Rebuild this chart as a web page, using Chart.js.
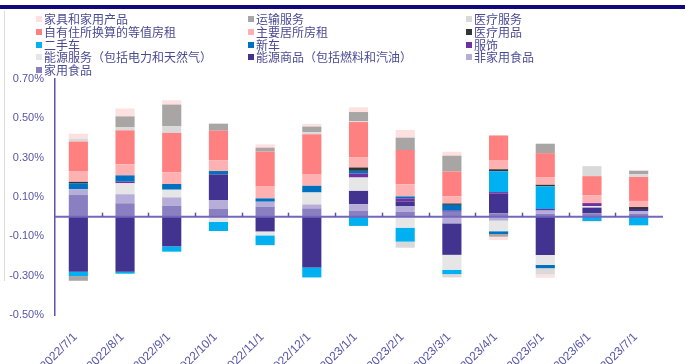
<!DOCTYPE html>
<html>
<head>
<meta charset="utf-8">
<script src="https://cdn.jsdelivr.net/npm/chart.js@4.4.0/dist/chart.umd.min.js"></script>
<style>
  body { margin: 0; background: #fff; }
  #wrap { position: relative; width: 685px; height: 364px; overflow: hidden; }
  #topbar { position: absolute; left: 0; top: 5px; width: 685px; height: 4px; background: #12087e; }
  #frame { position: absolute; left: 4px; top: 11px; width: 0; height: 270px; border-left: 1px solid #dcdcdc; }
  #legend { position: absolute; left: 0; top: 0; width: 685px; height: 80px; font-family: "Noto Sans CJK SC", sans-serif; font-size: 12px; color: #4a4a94; }
  .item { position: absolute; white-space: nowrap; line-height: 13px; }
  .box { display: inline-block; width: 6px; height: 6px; margin-right: 2px; vertical-align: 2px; }
  canvas { position: absolute; left: 0; top: 0; }
</style>
</head>
<body>
<div id="wrap">
  <div id="topbar"></div>
  <div id="frame"></div>
  <canvas id="cpi" width="685" height="364"></canvas>
  <div id="legend"></div>
</div>
<script>
// months on the x axis
const categories = ['2022/7/1', '2022/8/1', '2022/9/1', '2022/10/1', '2022/11/1', '2022/12/1',
    '2023/1/1', '2023/2/1', '2023/3/1', '2023/4/1', '2023/5/1', '2023/6/1', '2023/7/1'];

// contributions, percentage points (stack order: first one sits next to zero)
const homeFood          = [0.110, 0.068, 0.056, 0.039, 0.051, 0.042, 0.031, 0.025, 0.025, 0.017, 0.015, 0.017, 0.015];
const awayFood          = [0.030, 0.046, 0.042, 0.044, 0.025, 0.020, 0.032, 0.029, -0.034, -0.020, 0.016, 0.000, 0.012];
const energyGoods       = [-0.280, -0.280, -0.151, 0.132, -0.075, -0.258, 0.068, 0.022, -0.160, 0.100, -0.195, 0.029, 0.012];
const energyServices    = [0.000, 0.056, 0.039, -0.027, -0.020, 0.061, 0.068, -0.056, -0.076, -0.054, -0.050, 0.008, 0.000];
const apparel           = [0.000, 0.008, 0.000, 0.000, 0.000, 0.000, 0.020, 0.017, 0.005, 0.008, 0.008, 0.015, 0.000];
const newCars           = [0.030, 0.032, 0.029, 0.017, 0.017, 0.034, 0.014, 0.010, 0.030, -0.014, -0.017, 0.000, 0.000];
const usedCars          = [-0.022, -0.010, -0.027, -0.046, -0.050, -0.051, -0.047, -0.071, -0.022, 0.106, 0.115, -0.022, -0.044];
const medicalGoods      = [0.007, 0.000, 0.000, 0.000, 0.000, 0.000, 0.017, 0.000, 0.007, 0.010, 0.008, 0.000, 0.010];
const rentPrimary       = [0.055, 0.056, 0.060, 0.054, 0.060, 0.060, 0.053, 0.061, 0.036, 0.044, 0.037, 0.039, 0.031];
const ownersRent        = [0.150, 0.173, 0.200, 0.151, 0.178, 0.202, 0.178, 0.175, 0.127, 0.128, 0.124, 0.098, 0.122];
const medicalServices   = [0.015, 0.015, 0.034, 0.000, 0.000, 0.010, 0.004, -0.031, -0.017, 0.000, -0.032, 0.051, 0.014];
const transportServices = [-0.024, 0.056, 0.110, 0.036, 0.020, 0.029, 0.047, 0.063, 0.080, -0.014, 0.048, 0.000, 0.017];
const furnishings       = [0.025, 0.040, 0.022, 0.000, 0.017, 0.014, 0.024, 0.039, 0.020, -0.017, -0.017, -0.006, 0.004];

const yTicks = [-0.5, -0.3, -0.1, 0.1, 0.3, 0.5, 0.7];

const series = [
    ['家用食品', homeFood, '#8a7fc0'],
    ['非家用食品', awayFood, '#b6add9'],
    ['能源商品（包括燃料和汽油）', energyGoods, '#41338f'],
    ['能源服务（包括电力和天然气）', energyServices, '#e6e6e6'],
    ['服饰', apparel, '#7030a0'],
    ['新车', newCars, '#0070c0'],
    ['二手车', usedCars, '#00b0f0'],
    ['医疗用品', medicalGoods, '#333333'],
    ['主要居所房租', rentPrimary, '#ffb1b1'],
    ['自有住所换算的等值房租', ownersRent, '#ff8080'],
    ['医疗服务', medicalServices, '#d9d9d9'],
    ['运输服务', transportServices, '#a9a5a5'],
    ['家具和家用产品', furnishings, '#fde1e1'],
];

const axisColor = '#5d51ad';
const tickColor = '#5656a8';

// zero line with small marks between months
const zeroLine = {
    id: 'zeroLine',
    afterDatasetsDraw(chart) {
        const ctx = chart.ctx;
        const x = chart.scales.x, y = chart.scales.y;
        const y0 = y.getPixelForValue(0);
        ctx.save();
        ctx.strokeStyle = '#7466bd';
        ctx.lineWidth = 2;
        ctx.beginPath();
        ctx.moveTo(x.left, y0);
        ctx.lineTo(x.right + 1, y0);
        ctx.stroke();
        ctx.strokeStyle = axisColor;
        ctx.lineWidth = 1.5;
        for (let i = 1; i < categories.length; i++) {
            const px = Math.round(x.getPixelForValue(i - 0.5)) + 0.5;
            ctx.beginPath();
            ctx.moveTo(px, y0);
            ctx.lineTo(px, y0 - 4);
            ctx.stroke();
        }
        ctx.restore();
    }
};

const chart = new Chart(document.getElementById('cpi'), {
    type: 'bar',
    data: {
        labels: categories,
        datasets: series.map(s => ({
            label: s[0],
            data: s[1],
            backgroundColor: s[2],
            borderWidth: 0,
            barPercentage: 0.41,
            categoryPercentage: 1.0
        }))
    },
    options: {
        responsive: false,
        animation: false,
        layout: { padding: { top: 79, right: 23, left: 0, bottom: 0 } },
        plugins: { legend: { display: false }, tooltip: { enabled: false } },
        scales: {
            x: {
                stacked: true,
                grid: { display: false },
                border: { display: false },
                ticks: {
                    color: tickColor,
                    font: { family: 'Liberation Sans', size: 12 },
                    minRotation: 45,
                    maxRotation: 45,
                    autoSkip: false,
                    labelOffset: -3,
                    padding: 7
                },
                afterFit: s => { s.height = 49; }
            },
            y: {
                stacked: true,
                min: -0.5,
                max: 0.7,
                afterBuildTicks: s => { s.ticks = yTicks.map(v => ({ value: v })); },
                grid: { display: false, drawTicks: false },
                border: { display: true, color: axisColor, width: 1.5 },
                ticks: {
                    color: tickColor,
                    font: { family: 'Liberation Sans', size: 11 },
                    padding: 11,
                    callback: v => v.toFixed(2) + '%'
                },
                afterFit: s => { s.width = 55; }
            }
        }
    },
    plugins: [zeroLine]
});

// legend, three columns, listed top of stack first
const legendEl = document.getElementById('legend');
const colX = [36, 248, 466];
const rowY = [12, 25, 38, 50, 63];
chart.data.datasets.slice().reverse().forEach(function(ds, i) {
    const d = document.createElement('div');
    d.className = 'item';
    d.style.left = colX[i % 3] + 'px';
    d.style.top = rowY[Math.floor(i / 3)] + 'px';
    d.innerHTML = '<span class="box" style="background:' + ds.backgroundColor + '"></span>' + ds.label;
    legendEl.appendChild(d);
});
</script>
</body>
</html>
